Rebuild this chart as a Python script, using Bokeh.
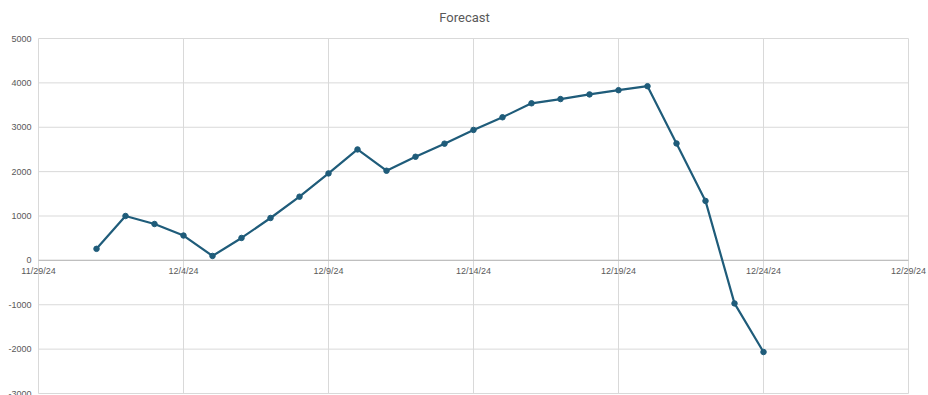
from datetime import datetime, timedelta
from bokeh.plotting import figure
from bokeh.models import Range1d, LabelSet, Label, ColumnDataSource
from bokeh.core.properties import value
from bokeh.embed import file_html
from bokeh.resources import INLINE

dates = ["2024-12-01", "2024-12-02", "2024-12-03", "2024-12-04", "2024-12-05", "2024-12-06",
         "2024-12-07", "2024-12-08", "2024-12-09", "2024-12-10", "2024-12-11", "2024-12-12",
         "2024-12-13", "2024-12-14", "2024-12-15", "2024-12-16", "2024-12-17", "2024-12-18",
         "2024-12-19", "2024-12-20", "2024-12-21", "2024-12-22", "2024-12-23", "2024-12-24"]
forecast = [260, 1000, 820, 560, 100, 505, 955, 1435, 1960, 2500, 2020, 2335,
            2630, 2940, 3225, 3540, 3635, 3740, 3835, 3925, 2635, 1340, -970, -2065]
x_ticks = ["2024-11-29", "2024-12-04", "2024-12-09", "2024-12-14", "2024-12-19", "2024-12-24", "2024-12-29"]
x_tick_labels = ["11/29/24", "12/4/24", "12/9/24", "12/14/24", "12/19/24", "12/24/24", "12/29/24"]
y_ticks = [-3000, -2000, -1000, 0, 1000, 2000, 3000, 4000, 5000]
y_tick_labels = ["-3000", "-2000", "-1000", "0", "1000", "2000", "3000", "4000", "5000"]
title_text = "Forecast"

W, H = 928, 395
# plot-area placement in pixels (layout, not data)
PL, PR, PT, PB = 38, 908, 38, 393

xs = [datetime.fromisoformat(d) for d in dates]
tick_dt = [datetime.fromisoformat(d) for d in x_ticks]
x0, x1 = tick_dt[0], tick_dt[-1]
px_per_day = (PR - PL) / ((x1 - x0).total_seconds() / 86400)
y0, y1 = y_ticks[0], y_ticks[-1]
px_per_unit = (PB - PT) / (y1 - y0)

p = figure(width=W, height=H, x_axis_type="datetime", output_backend="svg",
           toolbar_location=None, min_border=0)
p.x_range = Range1d(x0 - timedelta(days=PL / px_per_day), x1 + timedelta(days=(W - PR) / px_per_day))
p.y_range = Range1d(y0 - (H - PB) / px_per_unit, y1 + PT / px_per_unit)
p.xaxis.visible = False
p.yaxis.visible = False
p.xgrid.visible = False
p.ygrid.visible = False
p.outline_line_color = None
p.background_fill_color = "white"
p.border_fill_color = "white"

grid_color = "#d9d9d9"
# horizontal gridlines
p.segment(x0=[x0] * len(y_ticks), y0=y_ticks, x1=[x1] * len(y_ticks), y1=y_ticks,
          line_color=grid_color, line_width=1)
# vertical gridlines
p.segment(x0=tick_dt, y0=[y0] * len(tick_dt), x1=tick_dt, y1=[y1] * len(tick_dt),
          line_color=grid_color, line_width=1)
# horizontal axis at zero
p.segment(x0=[x0], y0=[0], x1=[x1], y1=[0], line_color="#bfbfbf", line_width=1.4)

font = value("Liberation Sans")
# y tick labels
ysrc = ColumnDataSource(dict(x=[x0] * len(y_ticks), y=y_ticks, text=y_tick_labels))
p.add_layout(LabelSet(x="x", y="y", text="text", source=ysrc, x_offset=-7,
                      text_align="right", text_baseline="middle", text_font=font,
                      text_font_size=value("9px"), text_color="#595959"))
# x tick labels, below the zero line
xsrc = ColumnDataSource(dict(x=tick_dt, y=[0] * len(tick_dt), text=x_tick_labels))
p.add_layout(LabelSet(x="x", y="y", text="text", source=xsrc, y_offset=-6,
                      text_align="center", text_baseline="top", text_font=font,
                      text_font_size=value("9px"), text_color="#595959"))

# title
p.add_layout(Label(x=W / 2, y=H - 17, x_units="screen", y_units="screen", text=title_text,
                   text_align="center", text_baseline="middle", text_font="Roboto",
                   text_font_size="13px", text_color="#595959"))

line_color = "#1f5c7a"
p.line(xs, forecast, line_color=line_color, line_width=2.2)
p.scatter(xs, forecast, size=5.5, fill_color=line_color, line_color=line_color)

open("out.html", "w").write(file_html(p, INLINE))
